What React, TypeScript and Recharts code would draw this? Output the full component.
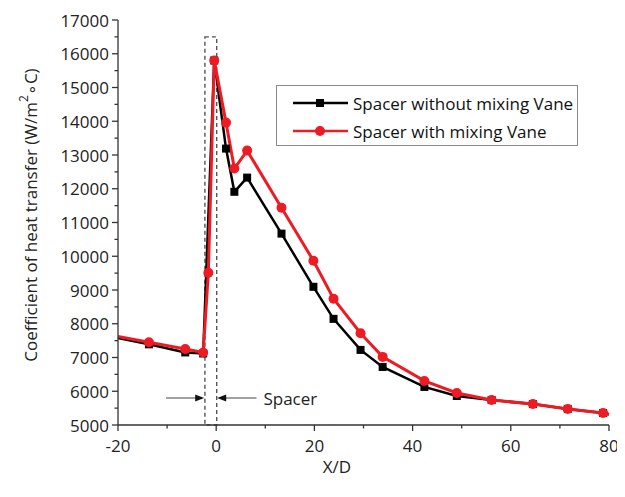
import React from 'react';
import { LineChart, Line, XAxis, YAxis, ReferenceArea, ReferenceLine, Legend } from 'recharts';

// X/D positions and heat-transfer coefficients (W/m2 C)
const xNoVane = [-20, -13.7, -6.3, -2.65, -0.4, 2.0, 3.7, 6.3, 13.3, 19.8, 23.9, 29.4, 33.9, 42.4, 49, 56.1, 64.5, 71.6, 78.8, 80];
const hNoVane = [7580, 7390, 7150, 7120, 15800, 13190, 11910, 12330, 10670, 9095, 8145, 7225, 6720, 6128, 5860, 5740, 5620, 5475, 5356, 5320];

const xVane = [-20, -13.7, -6.3, -2.65, -1.6, -0.4, 2.0, 3.7, 6.3, 13.3, 19.8, 23.9, 29.4, 33.9, 42.4, 49, 56.1, 64.5, 71.6, 78.8, 80];
const hVane = [7620, 7450, 7250, 7150, 9510, 15800, 13960, 12600, 13130, 11440, 9866, 8740, 7720, 7018, 6306, 5950, 5740, 5620, 5475, 5356, 5320];

const xTicks = [-20, -10, 0, 10, 20, 30, 40, 50, 60, 70, 80];
const yTicks = [5000, 5500, 6000, 6500, 7000, 7500, 8000, 8500, 9000, 9500, 10000, 10500, 11000, 11500, 12000, 12500, 13000, 13500, 14000, 14500, 15000, 15500, 16000, 16500, 17000];

const seriesNames = ['Spacer without mixing Vane', 'Spacer with mixing Vane'];
const spacerBox = { x1: -2.3, x2: 0.1, y1: 5000, y2: 16500 };
const arrowLeft = [{ x: -10.2, y: 5800 }, { x: -2.45, y: 5800 }];
const arrowRight = [{ x: 8.2, y: 5800 }, { x: 0.2, y: 5800 }];
const spacerLabel = 'Spacer';

const noVaneData = xNoVane.map((x, i) => ({ x, h: hNoVane[i] }));
const vaneData = xVane.map((x, i) => ({ x, h: hVane[i] }));

const RED = '#ed1c24';
const FONT = '"Open Sans", sans-serif';

const YTick = (props: any) => {
  const { x, y, payload } = props;
  const major = payload.value % 1000 === 0;
  return (
    <g>
      <line x1={x - (major ? 6 : 3.5)} x2={x} y1={y} y2={y} stroke="#333" strokeWidth={1.3} />
      {major && (
        <text x={x - 9} y={y} textAnchor="end" dominantBaseline="central" fontSize={17} fill="#222" fontFamily={FONT}>
          {payload.value}
        </text>
      )}
    </g>
  );
};

const XTick = (props: any) => {
  const { x, y, payload } = props;
  const major = payload.value % 20 === 0;
  return (
    <g>
      <line x1={x} x2={x} y1={y} y2={y + (major ? 6 : 3.5)} stroke="#333" strokeWidth={1.3} />
      {major && (
        <text x={x} y={y + 20} textAnchor="middle" dominantBaseline="central" fontSize={17} fill="#222" fontFamily={FONT}>
          {payload.value}
        </text>
      )}
    </g>
  );
};

const squareDot = (len: number) => (props: any) => {
  const { cx, cy, index } = props;
  if (index === 0 || index === len - 1 || cx == null) return <g key={`s${index}`} />;
  return <rect key={`s${index}`} x={cx - 4} y={cy - 4} width={8} height={8} fill="#000" />;
};

const circleDot = (len: number) => (props: any) => {
  const { cx, cy, index } = props;
  if (index === 0 || index === len - 1 || cx == null) return <g key={`c${index}`} />;
  return <circle key={`c${index}`} cx={cx} cy={cy} r={5} fill={RED} />;
};

const arrowShape = (withText: boolean) => (props: any) => {
  const { x1, y1, x2, y2 } = props;
  const dir = x2 > x1 ? 1 : -1;
  return (
    <g>
      <line x1={x1} y1={y1} x2={x2 - dir * 6} y2={y2} stroke="#444" strokeWidth={1} />
      <polygon points={`${x2},${y2} ${x2 - dir * 9},${y2 - 3.5} ${x2 - dir * 9},${y2 + 3.5}`} fill="#111" />
      {withText && (
        <text x={x1 + 7} y={y1} dominantBaseline="central" fontSize={17} fill="#222" fontFamily={FONT}>
          {spacerLabel}
        </text>
      )}
    </g>
  );
};

const LegendBox = () => (
  <svg width={302} height={61} style={{ display: 'block' }}>
    <rect x={0.5} y={0.5} width={301} height={60} fill="#fff" stroke="#8a8a8a" strokeWidth={1} />
    <line x1={17} x2={72} y1={18} y2={18} stroke="#000" strokeWidth={2.5} />
    <rect x={40} y={14} width={8} height={8} fill="#000" />
    <text x={77} y={18} dominantBaseline="central" fontSize={17} fill="#111" fontFamily={FONT}>{seriesNames[0]}</text>
    <line x1={17} x2={72} y1={46} y2={46} stroke={RED} strokeWidth={2.5} />
    <circle cx={44} cy={46} r={5} fill={RED} />
    <text x={77} y={46} dominantBaseline="central" fontSize={17} fill="#111" fontFamily={FONT}>{seriesNames[1]}</text>
  </svg>
);

export default function App() {
  return (
    <div style={{ width: 617, height: 489, fontFamily: FONT }}>
      <LineChart width={617} height={489} margin={{ top: 12, right: 16, bottom: 0, left: 0 }}>
        <XAxis
          type="number"
          dataKey="x"
          domain={[-20, 80]}
          ticks={xTicks}
          interval={0}
          tickSize={0}
          tickMargin={0}
          tick={<XTick />}
          height={72}
          stroke="#333"
          strokeWidth={1.3}
          allowDuplicatedCategory={false}
          label={{
            content: () => (
              <text x={329} y={458} textAnchor="middle" dominantBaseline="central" fontSize={17} fill="#222" fontFamily={FONT}>
                X/D
              </text>
            ),
          }}
        />
        <YAxis
          type="number"
          domain={[5000, 17000]}
          ticks={yTicks}
          interval={0}
          tickSize={0}
          tickMargin={0}
          tick={<YTick />}
          width={110}
          stroke="#333"
          strokeWidth={1.3}
          label={{
            content: () => (
              <text
                x={22}
                y={207}
                transform="rotate(-90 22 207)"
                textAnchor="middle"
                dominantBaseline="central"
                fontSize={17}
                fill="#222"
                fontFamily={FONT}
              >
                Coefficient of heat transfer (W/m
                <tspan dy={-7} fontSize={12}>2</tspan>
                <tspan dy={7}>∘C)</tspan>
              </text>
            ),
          }}
        />
        <ReferenceArea
          x1={spacerBox.x1}
          x2={spacerBox.x2}
          y1={spacerBox.y1}
          y2={spacerBox.y2}
          fill="none"
          fillOpacity={0}
          stroke="#555"
          strokeWidth={1.4}
          strokeDasharray="4 3"
          ifOverflow="extendDomain"
        />
        <ReferenceLine segment={arrowLeft} shape={arrowShape(false)} />
        <ReferenceLine segment={arrowRight} shape={arrowShape(true)} />
        <Line
          data={noVaneData}
          dataKey="h"
          name={seriesNames[0]}
          stroke="#000"
          strokeWidth={2.5}
          dot={squareDot(noVaneData.length)}
          activeDot={false}
          isAnimationActive={false}
        />
        <Line
          data={vaneData}
          dataKey="h"
          name={seriesNames[1]}
          stroke={RED}
          strokeWidth={3}
          dot={circleDot(vaneData.length)}
          activeDot={false}
          isAnimationActive={false}
        />
        <Legend
          layout="horizontal"
          verticalAlign="middle"
          align="center"
          content={() => <LegendBox />}
          wrapperStyle={{ position: 'absolute', top: 77, left: 268, width: 302, height: 61 }}
        />
      </LineChart>
    </div>
  );
}
